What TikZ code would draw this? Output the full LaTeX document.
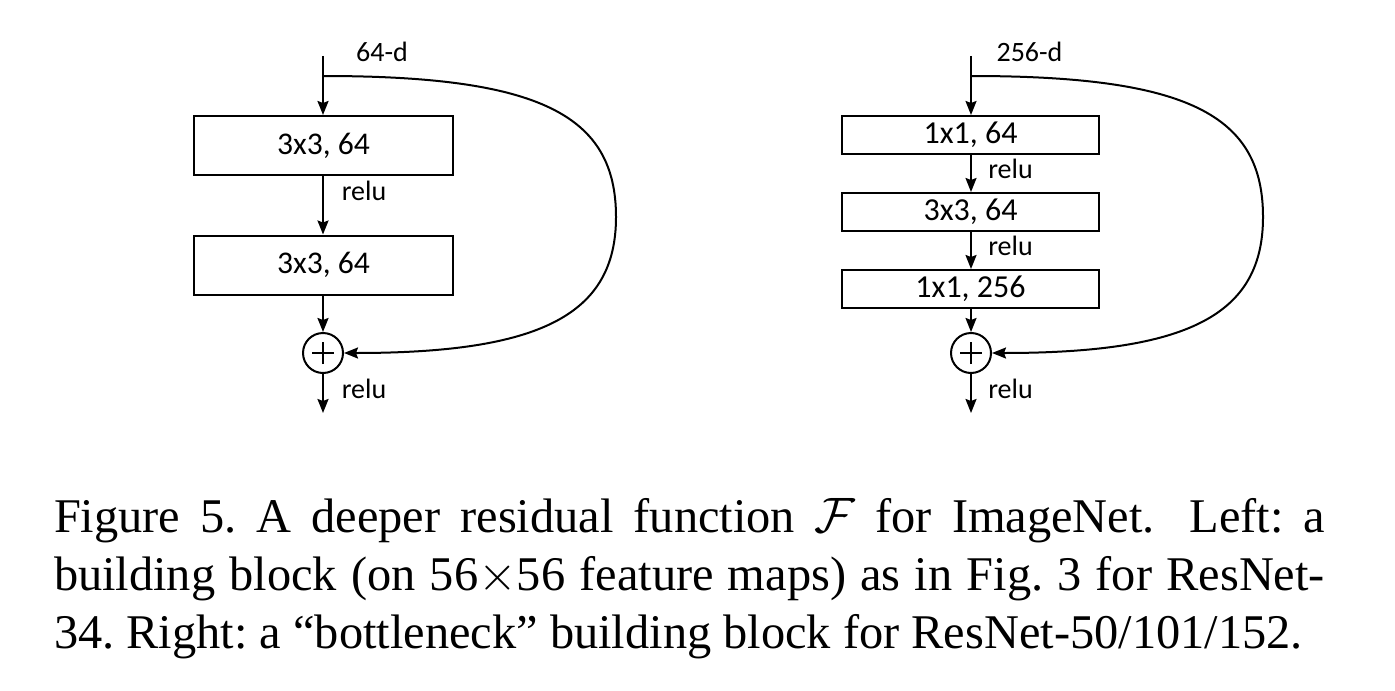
\documentclass[tikz,border=0pt]{standalone}
\usepackage{fontspec}
\setmainfont{Liberation Serif}
\newfontfamily\diag{Carlito}
\usetikzlibrary{arrows.meta}
\begin{document}
\frenchspacing
\begin{tikzpicture}[x=0.5pt,y=-0.5pt,
  line width=1pt,
  arr/.style={-{Stealth[length=7pt,width=5.5pt,inset=1pt]}},
  bigbox/.style={draw,minimum width=129.5pt,minimum height=29.5pt,inner sep=0pt,font=\diag\fontsize{15.8}{18}\selectfont},
  smallbox/.style={draw,minimum width=128.5pt,minimum height=19pt,inner sep=0pt,font=\diag\fontsize{16}{18}\selectfont},
  addnode/.style={draw,circle,minimum size=20pt,inner sep=0pt},
  lbl/.style={inner sep=0pt,font=\diag\fontsize{14}{16}\selectfont},
  capline/.style={anchor=base west,inner sep=0pt,font=\fontsize{24.2}{29}\selectfont}]
\useasboundingbox (0,0) rectangle (1395,690);
% ---------- left block ----------
\coordinate (Ltop) at (323,56);
\coordinate (Lbr) at (323,76);
\node[bigbox] (L1) at (323.5,145.5) {3x3, 64};
\node[bigbox] (L2) at (323.5,265) {3x3, 64};
\node[addnode] (Lp) at (323,353) {};
\coordinate (Lbot) at (323,413);
\draw[arr] (Ltop) -- (L1.north -| Ltop);
\draw[arr] (L1.south -| Ltop) -- (L2.north -| Ltop);
\draw[arr] (L2.south -| Ltop) -- (Lp.north);
\draw[arr] (Lp.south) -- (Lbot);
\draw ([xshift=-5.5pt]Lp.center) -- ([xshift=5.5pt]Lp.center);
\draw ([yshift=-5.5pt]Lp.center) -- ([yshift=5.5pt]Lp.center);
\draw[arr] (Lbr) .. controls (540,76) and (616,115) .. (616,217)
  .. controls (616,315) and (540,353) .. (Lp.east);
\node[lbl] (Ld) at (382,51.5) {64-d};
\node[lbl] (Lr1) at (364,191) {relu};
\node[lbl] (Lr2) at (364,389) {relu};
% ---------- right block ----------
\coordinate (Rtop) at (971,56);
\coordinate (Rbr) at (971,76);
\node[smallbox] (R1) at (970.5,135) {1x1, 64};
\node[smallbox] (R2) at (970.5,212) {3x3, 64};
\node[smallbox] (R3) at (970.5,289) {1x1, 256};
\node[addnode] (Rp) at (971,353) {};
\coordinate (Rbot) at (971,413);
\draw[arr] (Rtop) -- (R1.north -| Rtop);
\draw[arr] (R1.south -| Rtop) -- (R2.north -| Rtop);
\draw[arr] (R2.south -| Rtop) -- (R3.north -| Rtop);
\draw[arr] (R3.south -| Rtop) -- (Rp.north);
\draw[arr] (Rp.south) -- (Rbot);
\draw ([xshift=-5.5pt]Rp.center) -- ([xshift=5.5pt]Rp.center);
\draw ([yshift=-5.5pt]Rp.center) -- ([yshift=5.5pt]Rp.center);
\draw[arr] (Rbr) .. controls (1188,76) and (1263,115) .. (1263,217)
  .. controls (1263,315) and (1188,353) .. (Rp.east);
\node[lbl] (Rd) at (1029.5,51.5) {256-d};
\node[lbl] (Rr1) at (1010.5,169) {relu};
\node[lbl] (Rr2) at (1010.5,246) {relu};
\node[lbl] (Rr3) at (1010.5,389) {relu};
% ---------- caption ----------
\node[capline] (c1) at (53,532) {\makebox[635.5pt][s]{Figure 5. A deeper residual function $\mathcal{F}$ for ImageNet.\hspace{0.3em} Left: a}};
\node[capline] (c2) at (53,590) {\makebox[635.5pt][s]{building block (on 56$\times$56 feature maps) as in Fig. 3 for ResNet-}};
\node[capline] (c3) at (53,648) {34. Right: a ``bottleneck'' building block for ResNet-50/101/152.};
\end{tikzpicture}
\end{document}
